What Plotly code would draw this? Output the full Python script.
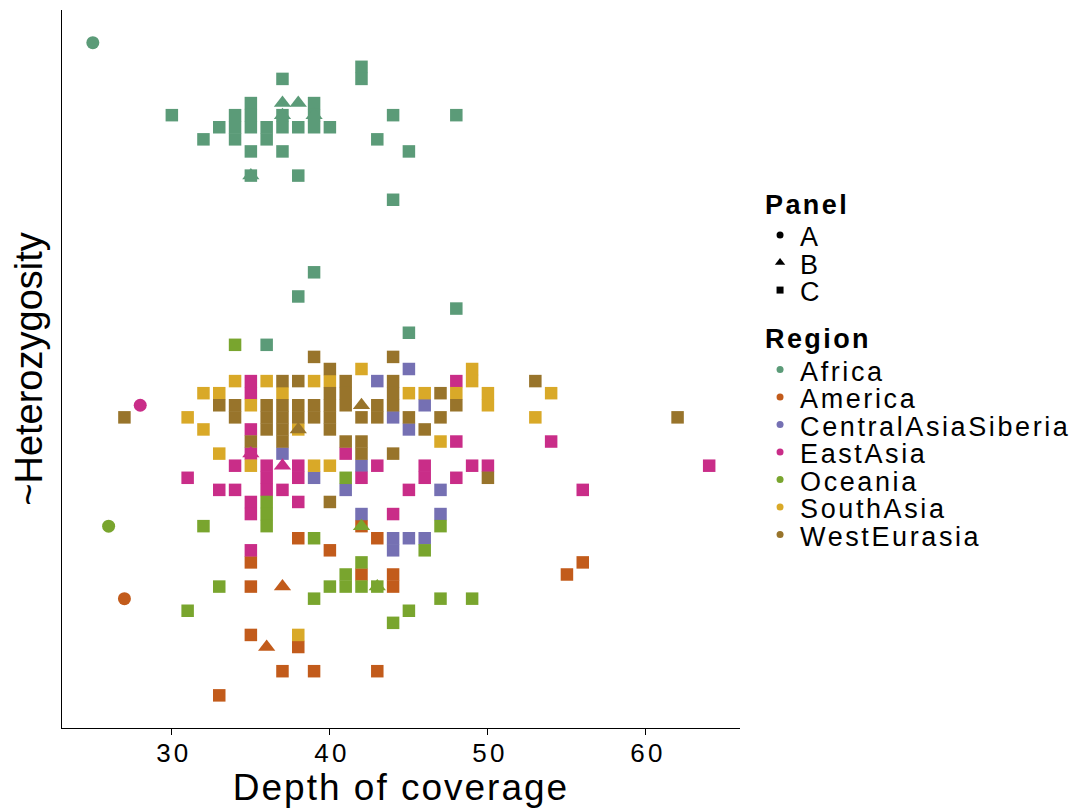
import plotly.graph_objects as go

# ---------------- data (depth of coverage, heterozygosity level) ----------------
africa_depth_A = [25]
africa_het_A = [54]
africa_depth_B = [37, 38, 37, 39, 35]
africa_het_B = [49, 49, 48, 48, 43]
africa_depth_C = [37, 42, 42, 35, 39, 30, 34, 35, 37, 39, 44, 48, 33, 34, 35, 36, 37, 38, 39, 40,
                  32, 34, 36, 43, 35, 37, 45, 35, 38, 44, 39, 38, 48, 45, 36]
africa_het_C = [51, 52, 51, 49, 49, 48, 48, 48, 48, 48, 48, 48, 47, 47, 47, 47, 47, 47, 47, 47,
                46, 46, 46, 46, 45, 45, 45, 43, 43, 41, 35, 33, 32, 30, 29]

america_depth_A = [27]
america_het_A = [8]
america_depth_B = [37, 36]
america_het_B = [9, 4]
america_depth_C = [42, 38, 43, 40, 35, 56, 42, 44, 55, 35, 44, 35, 38, 37, 39, 43, 33]
america_het_C = [14, 13, 13, 12, 11, 11, 10, 10, 10, 9, 9, 5, 4, 2, 2, 2, 0]

centralasia_depth_C = [45, 43, 46, 44, 45, 37, 42, 39, 41, 47, 42, 47, 44, 45, 46, 44]
centralasia_het_C = [27, 26, 24, 23, 22, 20, 19, 18, 17, 17, 15, 15, 13, 13, 13, 12]

eastasia_depth_A = [28]
eastasia_het_A = [24]
eastasia_depth_B = [35, 37]
eastasia_het_B = [20, 19]
eastasia_depth_C = [35, 48, 35, 35, 48, 54, 35, 41, 34, 36, 38, 43, 46, 49, 50, 64,
                    31, 36, 38, 42, 46, 48, 33, 34, 36, 37, 45, 56, 35, 38, 35, 44, 35]
eastasia_het_C = [26, 26, 25, 22, 21, 21, 20, 20, 19, 19, 19, 19, 19, 19, 19, 19,
                  18, 18, 18, 18, 18, 18, 17, 17, 17, 17, 17, 17, 16, 16, 15, 15, 12]

oceania_depth_A = [26]
oceania_het_A = [14]
oceania_depth_B = [42, 43]
oceania_het_B = [14, 9]
oceania_depth_C = [34, 41, 36, 36, 32, 36, 47, 39, 46, 42, 41, 33, 40, 41, 42, 43, 39, 47, 49, 31, 45, 44]
oceania_het_C = [29, 18, 16, 15, 14, 14, 14, 13, 12, 11, 10, 9, 9, 9, 9, 9, 8, 8, 8, 7, 7, 6]

southasia_depth_C = [42, 49, 34, 36, 39, 40, 49, 32, 33, 37, 45, 46, 48, 50, 54,
                     35, 50, 31, 53, 32, 38, 47, 33, 35, 39, 40, 38]
southasia_het_C = [27, 27, 26, 26, 26, 26, 26, 25, 25, 25, 25, 25, 25, 25, 25,
                   24, 24, 23, 23, 22, 22, 21, 20, 19, 19, 19, 5]

westeurasia_depth_B = [42, 38]
westeurasia_het_B = [24, 22]
westeurasia_depth_C = [39, 44, 40, 37, 38, 41, 44, 53, 40, 41, 44, 47,
                       33, 34, 36, 37, 38, 39, 40, 41, 43, 44, 48,
                       27, 34, 36, 37, 38, 39, 40, 42, 43, 45, 47, 62,
                       36, 37, 40, 46, 35, 37, 41, 42, 42, 44, 50, 40]
westeurasia_het_C = [28, 28, 27, 26, 26, 26, 26, 26, 25, 25, 25, 25,
                     24, 24, 24, 24, 24, 24, 24, 24, 24, 24, 24,
                     23, 23, 23, 23, 23, 23, 23, 23, 23, 23, 23, 23,
                     22, 22, 22, 22, 21, 21, 21, 21, 20, 20, 18, 16]

regions = ["Africa", "America", "CentralAsiaSiberia", "EastAsia", "Oceania", "SouthAsia", "WestEurasia"]
panels = ["A", "B", "C"]
x_ticks = [30, 40, 50, 60]
x_tick_labels = ["30", "40", "50", "60"]

series = [
    ("Africa", "A", africa_depth_A, africa_het_A),
    ("Africa", "B", africa_depth_B, africa_het_B),
    ("Africa", "C", africa_depth_C, africa_het_C),
    ("America", "A", america_depth_A, america_het_A),
    ("America", "B", america_depth_B, america_het_B),
    ("America", "C", america_depth_C, america_het_C),
    ("CentralAsiaSiberia", "C", centralasia_depth_C, centralasia_het_C),
    ("EastAsia", "A", eastasia_depth_A, eastasia_het_A),
    ("EastAsia", "B", eastasia_depth_B, eastasia_het_B),
    ("EastAsia", "C", eastasia_depth_C, eastasia_het_C),
    ("Oceania", "A", oceania_depth_A, oceania_het_A),
    ("Oceania", "B", oceania_depth_B, oceania_het_B),
    ("Oceania", "C", oceania_depth_C, oceania_het_C),
    ("SouthAsia", "C", southasia_depth_C, southasia_het_C),
    ("WestEurasia", "B", westeurasia_depth_B, westeurasia_het_B),
    ("WestEurasia", "C", westeurasia_depth_C, westeurasia_het_C),
]
for _r, _p, _x, _y in series:
    assert len(_x) == len(_y), (_r, _p)

# ---------------- styling ----------------
colors = {
    "Africa": "#5B9B78",
    "America": "#C25B1B",
    "CentralAsiaSiberia": "#7570B3",
    "EastAsia": "#C92D88",
    "Oceania": "#79A52E",
    "SouthAsia": "#D9A928",
    "WestEurasia": "#98742B",
}
symbols = {"A": "circle", "B": "triangle-up", "C": "square"}
sizes = {"A": 13, "B": 15, "C": 12.5}
FONT = "Liberation Sans, Arial, Helvetica, sans-serif"

fig = go.Figure()

# squares first, then triangles, then circles (on top)
for panel in ["C", "B", "A"]:
    for region, p, xs, ys in series:
        if p != panel:
            continue
        fig.add_trace(go.Scatter(
            x=xs, y=ys, mode="markers",
            marker=dict(symbol=symbols[p], size=sizes[p], color=colors[region], line=dict(width=0)),
            showlegend=False, name=f"{region} ({p})",
        ))


def item_text(t):
    return f'<span style="font-size:27px;letter-spacing:2.6px;baseline-shift:-4px">{t}</span>'


def title_text(t):
    return f'<b><span style="font-size:27px;letter-spacing:2.4px">{t}</span></b>'


leg_sizes = {"A": 7, "B": 9, "C": 7}
for p in panels:
    fig.add_trace(go.Scatter(
        x=[None], y=[None], mode="markers", name=item_text(p),
        marker=dict(symbol=symbols[p], size=leg_sizes[p], color="black"),
        legendgroup="panel",
        legendgrouptitle=dict(text=title_text("Panel"), font=dict(size=23, color="black", family=FONT)),
    ))
for r in regions:
    fig.add_trace(go.Scatter(
        x=[None], y=[None], mode="markers", name=item_text(r),
        marker=dict(symbol="circle", size=7, color=colors[r]),
        legendgroup="region",
        legendgrouptitle=dict(text=title_text("Region"), font=dict(size=23, color="black", family=FONT)),
    ))

fig.update_layout(
    template="none",
    width=1079, height=808,
    margin=dict(l=62, r=339, t=10, b=80, pad=0),
    paper_bgcolor="white", plot_bgcolor="white",
    font=dict(family=FONT, color="black"),
    legend=dict(
        xref="container", yref="container",
        x=0.7044, xanchor="left", y=0.773, yanchor="top",
        font=dict(size=18.85, color="black", family=FONT),
        traceorder="grouped", tracegroupgap=19,
        bgcolor="rgba(0,0,0,0)", borderwidth=0,
    ),
    xaxis=dict(
        range=[23.05, 65.95], tickvals=x_ticks,
        ticktext=[f'<span style="letter-spacing:3.2px">{t}</span>' for t in x_tick_labels],
        ticks="outside", ticklen=6, tickwidth=1.2, tickcolor="black",
        ticklabelstandoff=-4, ticklabelshift=2,
        showline=True, linecolor="black", linewidth=1.3,
        showgrid=False, zeroline=False, automargin=False,
        tickfont=dict(size=26, color="black", family=FONT),
        title=dict(text='<span style="letter-spacing:2px">Depth of coverage</span>',
                   font=dict(size=37, color="black", family=FONT), standoff=0),
    ),
    yaxis=dict(
        range=[-2.7, 56.7], showticklabels=False, ticks="",
        showline=True, linecolor="black", linewidth=1.3,
        showgrid=False, zeroline=False, automargin=False,
        title=dict(text="~Heterozygosity", font=dict(size=38, color="black", family=FONT), standoff=6),
    ),
)

fig.write_html("out.html")
